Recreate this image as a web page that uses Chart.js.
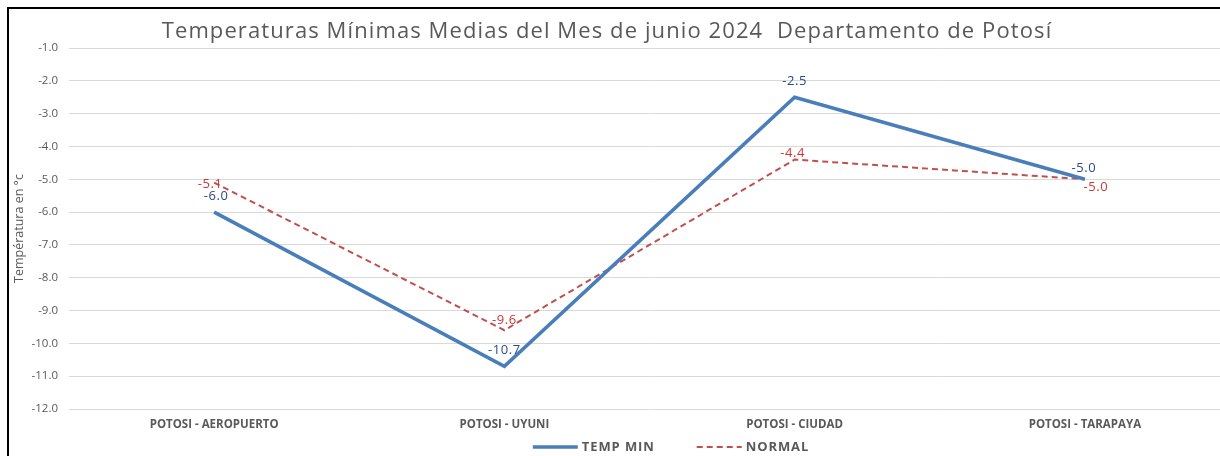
<!DOCTYPE html>
<html><head><meta charset="utf-8">
<script src="https://cdn.jsdelivr.net/npm/chart.js@4"></script>
<style>
html,body{margin:0;padding:0;background:#fff;overflow:hidden;width:1220px;height:456px}
#wrap{position:absolute;left:0;top:0;width:1232px;height:456px}
#frame{position:absolute;left:7px;top:7px;width:1300px;height:500px;border-left:2px solid #000;border-top:2px solid #000;pointer-events:none}
</style></head>
<body>
<div id="wrap"><canvas id="c" width="1232" height="456"></canvas></div>
<div id="frame"></div>
<script>
const categories = ["POTOSI - AEROPUERTO", "POTOSI - UYUNI", "POTOSI - CIUDAD", "POTOSI - TARAPAYA"];
const tempMin = [-6.0, -10.7, -2.5, -5.0];
const normal = [-5.1, -9.6, -4.4, -5.0];
const seriesNames = ["TEMP MIN", "NORMAL"];
const chartTitle = "Temperaturas Mínimas Medias del Mes de junio 2024  Departamento de Potosí";
const yTitle = "Températura en °c";

const labelOffsets = [
  [[2, -16], [0, -16], [0, -16], [-1, -11]],
  [[-4, 2], [0, -10], [-2, -6], [11, 8]]
];
const labelColors = ["#2A4A8A", "#D03535"];
const lineColors = ["#4A7EBB", "#C0504D"];
const GREY = '#595959';

const dataLabelPlugin = {
  id: 'dl',
  afterDatasetsDraw(chart) {
    const ctx = chart.ctx;
    ctx.save();
    ctx.font = '13px "Open Sans"';
    ctx.letterSpacing = '0.6px';
    ctx.textAlign = 'center';
    ctx.textBaseline = 'middle';
    chart.data.datasets.forEach((ds, di) => {
      const meta = chart.getDatasetMeta(di);
      meta.data.forEach((pt, i) => {
        const off = labelOffsets[di][i];
        ctx.fillStyle = labelColors[di];
        ctx.fillText(ds.data[i].toFixed(1), pt.x + off[0], pt.y + off[1]);
      });
    });
    ctx.restore();
  }
};

const titleLegendPlugin = {
  id: 'tl',
  afterDraw(chart) {
    const ctx = chart.ctx;
    ctx.save();
    // title
    ctx.font = '22px "Open Sans"';
    ctx.letterSpacing = '1.1px';
    ctx.fillStyle = GREY;
    ctx.textAlign = 'center';
    ctx.textBaseline = 'middle';
    ctx.fillText(chartTitle, 607, 32);
    // legend
    ctx.font = 'bold 13px "Open Sans"';
    ctx.letterSpacing = '0.9px';
    const lineW = 45, gapText = 4, gapItem = 42;
    const widths = seriesNames.map(n => ctx.measureText(n).width);
    let total = 0;
    widths.forEach((w, i) => { total += lineW + gapText + w + (i ? gapItem : 0); });
    let x = 671 - total / 2;
    const y = 447;
    chart.data.datasets.forEach((ds, i) => {
      ctx.beginPath();
      ctx.strokeStyle = ds.borderColor;
      ctx.lineWidth = ds.borderWidth;
      ctx.setLineDash(ds.borderDash || []);
      ctx.moveTo(x, y); ctx.lineTo(x + lineW, y);
      ctx.stroke();
      ctx.setLineDash([]);
      ctx.textAlign = 'left';
      ctx.fillStyle = GREY;
      ctx.fillText(seriesNames[i], x + lineW + gapText, y + 0.5);
      x += lineW + gapText + widths[i] + gapItem;
    });
    ctx.restore();
  }
};

new Chart(document.getElementById('c'), {
  type: 'line',
  data: {
    labels: categories,
    datasets: [
      { label: seriesNames[0], data: tempMin, borderColor: lineColors[0], backgroundColor: lineColors[0], borderWidth: 3.6, pointRadius: 0, tension: 0 },
      { label: seriesNames[1], data: normal, borderColor: lineColors[1], backgroundColor: lineColors[1], borderWidth: 2, borderDash: [6, 4], pointRadius: 0, tension: 0 }
    ]
  },
  options: {
    responsive: false,
    animation: false,
    layout: { padding: { left: 5, right: 2, top: 48, bottom: 7 } },
    plugins: {
      title: { display: false, text: chartTitle },
      legend: { display: false },
      tooltip: { enabled: false }
    },
    scales: {
      x: {
        offset: true,
        grid: { display: false },
        border: { display: false },
        ticks: { color: GREY, font: { family: '"Open Sans"', size: 11.5, weight: 'bold' }, maxRotation: 0, padding: 1 },
        afterFit(s) { s.height = 40; }
      },
      y: {
        min: -12, max: -1,
        ticks: { stepSize: 1, color: GREY, font: { family: '"Open Sans"', size: 11.5 }, callback: v => v.toFixed(1), padding: 11 },
        grid: { color: '#D9D9D9', lineWidth: 1, drawTicks: false },
        border: { display: false },
        title: { display: true, text: yTitle, color: GREY, font: { family: '"Open Sans"', size: 12.5 }, padding: { top: 7, bottom: 0 } },
        afterFit(s) { s.width = 64; }
      }
    }
  },
  plugins: [dataLabelPlugin, titleLegendPlugin]
});
</script>
</body></html>
